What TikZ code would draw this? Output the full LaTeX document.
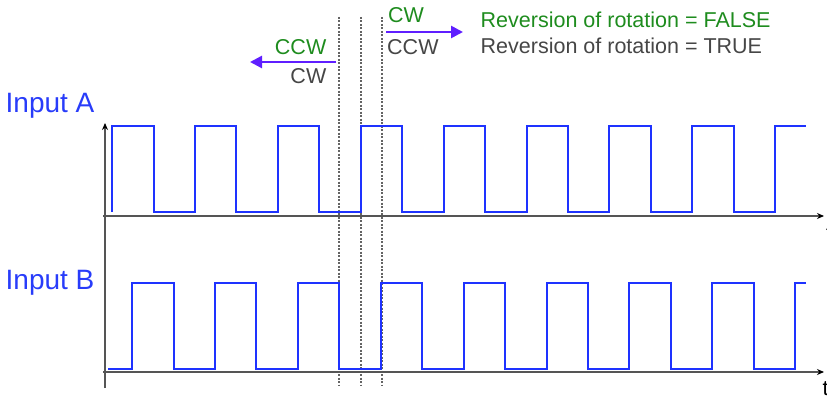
\documentclass[tikz,border=0pt]{standalone}
\usepackage{fontspec}
\setmainfont{Liberation Sans}
\usetikzlibrary{arrows.meta}
\definecolor{sigblue}{RGB}{30,50,255}
\definecolor{lblblue}{RGB}{40,60,250}
\definecolor{revgreen}{RGB}{30,140,30}
\definecolor{revgray}{RGB}{70,70,70}
\definecolor{dirarrow}{RGB}{95,30,255}
\definecolor{axisgray}{RGB}{85,85,85}
\definecolor{dashgray}{RGB}{100,100,100}
\tikzset{
  signal/.style={draw=sigblue, line width=2pt, line join=miter},
  axisline/.style={draw=axisgray, line width=1.6pt, -{Stealth[length=7pt,width=6pt,color=black]}},
  marker/.style={draw=dashgray, line width=1.1pt, dash pattern=on 2pt off 1.5pt},
  dirarr/.style={draw=dirarrow, line width=2.6pt, -{Triangle[length=12pt,width=12pt]}},
  inlabel/.style={inner sep=0pt, text=lblblue, font=\fontsize{28}{30}\selectfont},
  small/.style={inner sep=0pt, font=\fontsize{21.5}{24}\selectfont},
}
\begin{document}
\begin{tikzpicture}[x=1pt,y=-1pt]
\useasboundingbox (0,0) rectangle (827,396);
% labels
\node[inlabel, anchor=base west] (ia) at (5.5,112) {Input A};
\node[inlabel, anchor=base west] (ib) at (5.5,289) {Input B};
% dashed markers
\foreach \x/\n in {339/m1, 361/m2, 382/m3}{
  \coordinate (\n t) at (\x,17);
  \coordinate (\n b) at (\x,386);
  \draw[marker] (\n t) -- (\n b);
}
% axes
\coordinate (vb) at (105,388);
\coordinate (vt) at (105,123);
\coordinate (ha0) at (103,216);
\coordinate (ha1) at (824,216);
\coordinate (hb0) at (103,372);
\coordinate (hb1) at (824,372);
\draw[axisline] (vb) -- (vt);
\draw[axisline] (ha0) -- (ha1);
\draw[axisline] (hb0) -- (hb1);
\node[small, anchor=base west, text=black] (ta) at (826,240) {t};
\node[small, anchor=base west, text=black] (tb) at (822.5,395) {t};
% signal A
\draw[signal] (112,212) |- (153.5,126) |- (194.9,212) |- (236.4,126) |- (277.8,212)
  |- (319.3,126) |- (360.7,212) |- (402.2,126) |- (443.6,212) |- (485.1,126)
  |- (526.5,212) |- (568.0,126) |- (609.4,212) |- (650.9,126) |- (692.3,212)
  |- (733.8,126) |- (775.2,212) |- (806,126);
% signal B
\draw[signal] (108,369) -- (132,369) |- (173.5,283) |- (214.9,369) |- (256.4,283)
  |- (297.8,369) |- (339.3,283) |- (380.7,369) |- (422.2,283) |- (463.6,369)
  |- (505.1,283) |- (546.5,369) |- (588.0,283) |- (629.4,369) |- (670.9,283)
  |- (712.3,369) |- (753.8,283) |- (795.2,369) |- (806,283);
% direction arrows
\coordinate (l0) at (336,62);
\coordinate (l1) at (250,62);
\coordinate (r0) at (386,32);
\coordinate (r1) at (463,32);
\draw[dirarr] (l0) -- (l1);
\draw[dirarr] (r0) -- (r1);
\node[small, anchor=base east, text=revgreen] (ccwg) at (326.5,55) {CCW};
\node[small, anchor=base east, text=revgray] (cwgr) at (326.5,83.5) {CW};
\node[small, anchor=base west, text=revgreen] (cwg) at (388,23) {CW};
\node[small, anchor=base west, text=revgray] (ccwgr) at (387,55) {CCW};
\node[small, anchor=base west, text=revgreen] (rf) at (480.5,28) {Reversion of rotation = FALSE};
\node[small, anchor=base west, text=revgray] (rt) at (480.5,53) {Reversion of rotation = TRUE};
\end{tikzpicture}
\end{document}
